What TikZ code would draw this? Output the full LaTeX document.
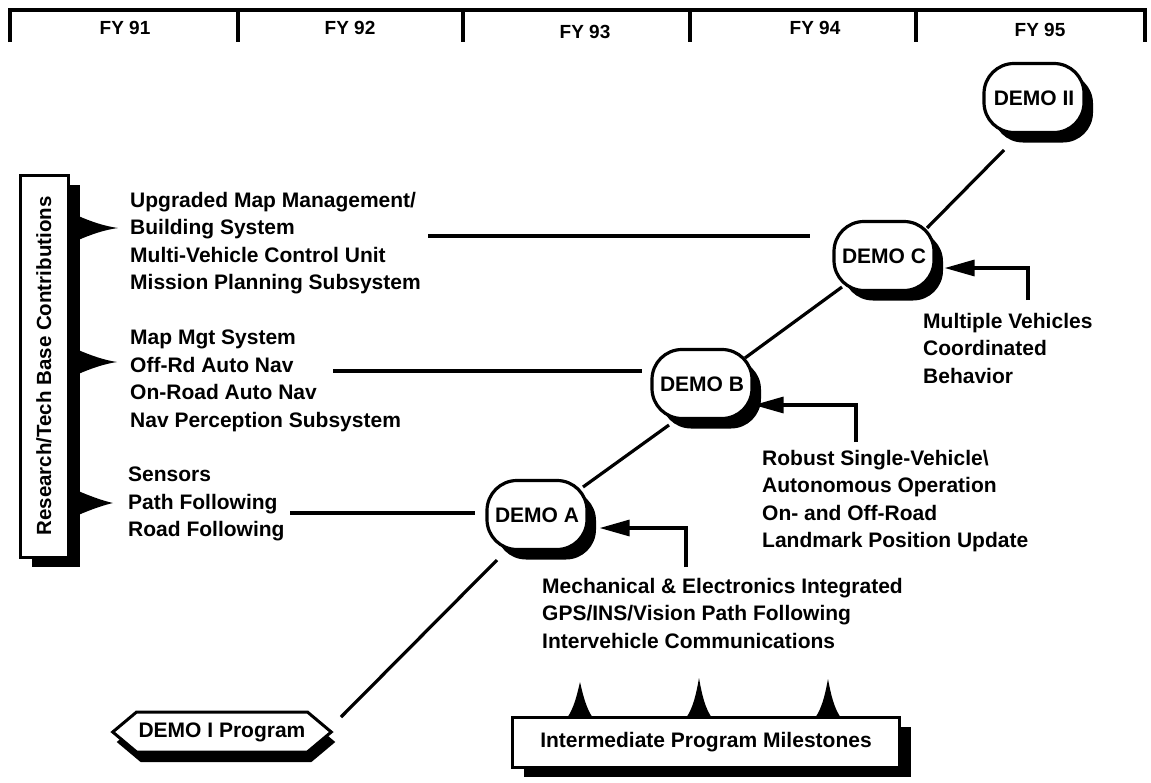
\documentclass[tikz,border=0pt]{standalone}
\usepackage{fontspec}
\usepackage{graphicx}
\setmainfont{Liberation Sans}
\usetikzlibrary{shapes.symbols,shadows,arrows.meta,calc}
\begin{document}
\begin{tikzpicture}[x=1pt,y=-1pt,
  every node/.style={font=\fontsize{21}{27.5}\selectfont\bfseries},
  ln/.style={line width=3.2pt},
  shad/.style={drop shadow={shadow xshift=#1, shadow yshift=-10pt, fill=black, opacity=1}},
  demo/.style={draw, line width=3.2pt, rounded corners=30pt, minimum width=100pt,
    minimum height=69pt, inner sep=0pt, fill=white, shad=9pt},
  txt/.style={align=left, anchor=north west, inner sep=0pt},
  fy/.style={font=\fontsize{19}{22}\selectfont\bfseries, inner sep=0pt},
  arr/.style={line width=3.2pt, -{Triangle[length=30pt,width=16pt]}}
]
\useasboundingbox (0,0) rectangle (1151,782);

% fiscal year bar
\draw[ln] (10,42) -- (10,10) -- (1145,10) -- (1145,42);
\foreach \x in {238,463,690,916} \draw[ln] (\x,10) -- (\x,42);
\node[fy] (fy91) at (125,28) {FY 91};
\node[fy] (fy92) at (350,28) {FY 92};
\node[fy] (fy93) at (585,32) {FY 93};
\node[fy] (fy94) at (815,28) {FY 94};
\node[fy] (fy95) at (1040,30) {FY 95};

% left box
\node[draw, line width=3pt, fill=white, minimum width=48pt, minimum height=382pt,
  inner sep=0pt, font=\fontsize{20.5}{24}\selectfont\bfseries, shad=12pt]
  (rt) at (44,366) {\rotatebox{90}{Research/Tech Base Contributions}};
\foreach \y/\t in {228/118,362/117,503/113}
  \fill (76,\y-13) .. controls (92,\y-6) and (104,\y-2) .. (\t,\y)
        .. controls (104,\y+2) and (92,\y+6) .. (76,\y+13) -- cycle;

% text blocks
\node[txt] (t1) at (130,192) {Upgraded Map Management/\\Building System\\Multi-Vehicle Control Unit\\Mission Planning Subsystem};
\node[txt] (t2) at (130,330) {Map Mgt System\\Off-Rd Auto Nav\\On-Road Auto Nav\\Nav Perception Subsystem};
\node[txt] (t3) at (128,467) {Sensors\\Path Following\\Road Following};
\node[txt] (t4) at (923,313) {Multiple Vehicles\\Coordinated\\Behavior};
\node[txt] (t5) at (762,450) {Robust Single-Vehicle\textbackslash\\Autonomous Operation\\On- and Off-Road\\Landmark Position Update};
\node[txt] (t6) at (542,578) {Mechanical \& Electronics Integrated\\GPS/INS/Vision Path Following\\Intervehicle Communications};

% demos
\node[demo] (demoII) at (1034,98) {DEMO II};
\node[demo] (demoC) at (884,256) {DEMO C};
\node[demo] (demoB) at (702,384) {DEMO B};
\node[demo] (demoA) at (537,515) {DEMO A};
\node[draw, line width=3pt, fill=white, shape=signal, signal to=west and east,
  signal pointer angle=80, minimum height=40pt, inner xsep=2pt, inner ysep=0pt,
  shad=4pt] (demoI) at (222,732) {DEMO I Program};

% milestones
\node[draw, line width=3pt, fill=white, minimum width=387pt, minimum height=50pt,
  inner sep=0pt, shad=11pt] (ms) at (706,742) {Intermediate Program Milestones};
\foreach \x/\t in {580/682,699/678,828/679}
  \fill (\x-13,718) .. controls (\x-6,708) and (\x-3,695) .. (\x,\t)
        .. controls (\x+3,695) and (\x+6,708) .. (\x+13,718) -- cycle;

% chain of demos
\draw[ln] ($(demoII.center)+(-30,52)$) -- ($(demoC.center)+(43,-28)$);
\draw[ln] ($(demoC.center)+(-42,31)$) -- ($(demoB.center)+(43,-26)$);
\draw[ln] ($(demoB.center)+(-33,41)$) -- ($(demoA.center)+(46,-28)$);
\draw[ln] ($(demoA.center)+(-40,45)$) -- ($(demoI.center)+(119,-15)$);

% horizontal leaders
\coordinate (h1) at (428,236);
\coordinate (h2) at (333,371);
\coordinate (h3) at (290,513);
\draw[ln, shorten >=22pt] (h1) -- (h1 -| demoC.west);
\draw[ln, shorten >=8pt] (h2) -- (h2 -| demoB.west);
\draw[ln, shorten >=10pt] (h3) -- (h3 -| demoA.west);

% arrows
\coordinate (a3) at (1028,300);
\coordinate (a2) at (856,442);
\coordinate (a1) at (686,567);
\draw[arr] (a3) |- ([shift={(9pt,-12pt)}]demoC.east);
\draw[arr] (a2) |- ([shift={(0pt,-21pt)}]demoB.east);
\draw[arr] (a1) |- ([shift={(11pt,-13pt)}]demoA.east);
\end{tikzpicture}
\end{document}
